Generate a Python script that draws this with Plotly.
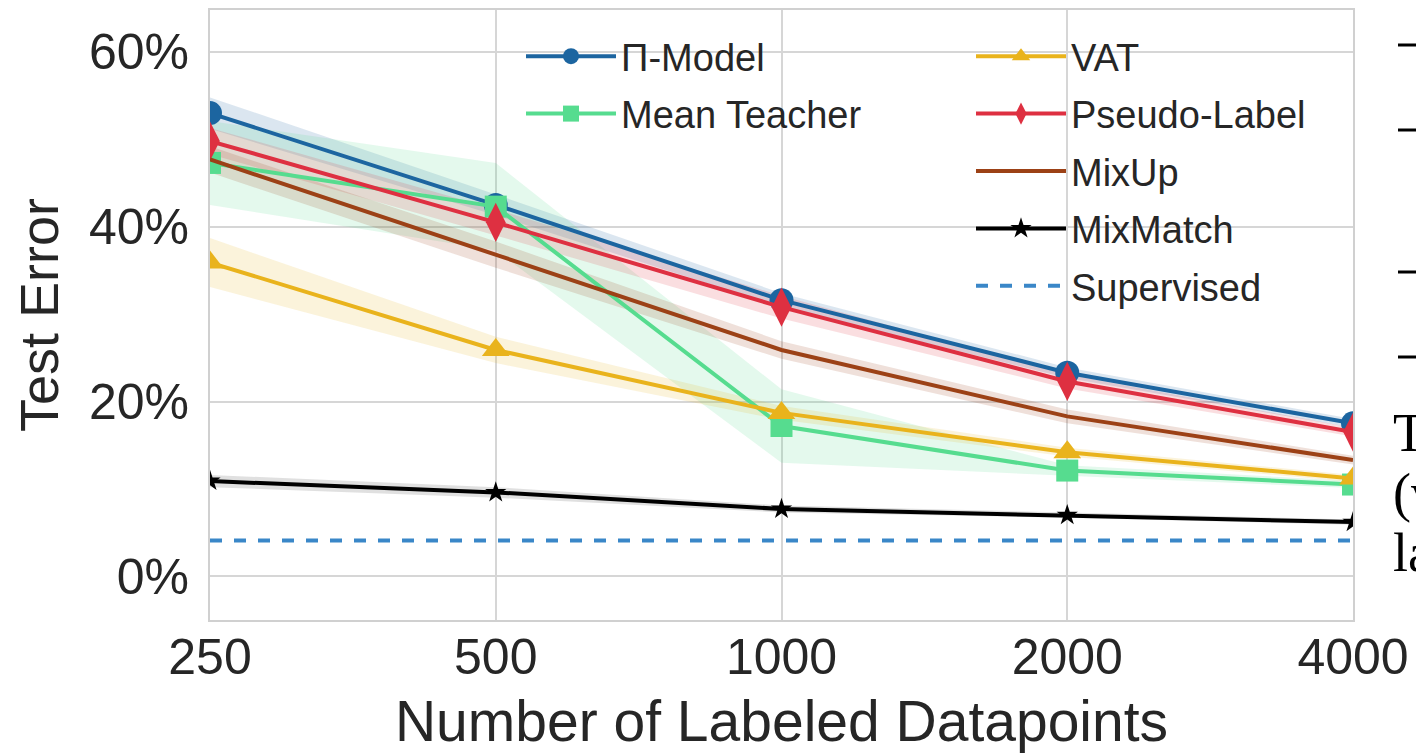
import plotly.graph_objects as go
import numpy as np

categories = [250, 500, 1000, 2000, 4000]
tick_labels = ["250", "500", "1000", "2000", "4000"]
y_ticks = [0, 20, 40, 60]
y_tick_labels = ["0%", "20%", "40%", "60%"]

pi_model = [53.0, 42.5, 31.6, 23.3, 17.5]
pi_model_sd = [1.8, 1.2, 0.8, 0.6, 0.5]
mean_teacher = [47.3, 42.3, 17.2, 12.1, 10.5]
mean_teacher_sd = [4.8, 5.0, 4.2, 0.6, 0.4]
vat = [35.9, 25.9, 18.7, 14.2, 11.2]
vat_sd = [2.8, 1.5, 0.8, 0.5, 0.4]
pseudo_label = [49.8, 40.5, 30.8, 22.3, 16.5]
pseudo_label_sd = [1.5, 1.5, 1.3, 0.8, 0.5]
mixup = [47.7, 36.8, 25.9, 18.3, 13.3]
mixup_sd = [1.5, 1.5, 1.0, 0.8, 0.5]
mixmatch = [10.9, 9.6, 7.7, 7.0, 6.2]
mixmatch_sd = [0.7, 0.6, 0.4, 0.3, 0.3]
supervised = [4.1, 4.1, 4.1, 4.1, 4.1]

series = [
    ("Π-Model", pi_model, pi_model_sd, "#1c65a0", "circle", 24, "legend"),
    ("Mean Teacher", mean_teacher, mean_teacher_sd, "#56dc8f", "square", 22, "legend"),
    ("VAT", vat, vat_sd, "#e9b31c", "triangle-up", 24, "legend2"),
    ("Pseudo-Label", pseudo_label, pseudo_label_sd, "#de3041", "diamond-tall", 28, "legend2"),
    ("MixUp", mixup, mixup_sd, "#9c4116", None, 0, "legend2"),
    ("MixMatch", mixmatch, mixmatch_sd, "#000000", "star", 16, "legend2"),
]

def rgba(hexc, a):
    h = hexc.lstrip("#")
    r, g, b = int(h[0:2], 16), int(h[2:4], 16), int(h[4:6], 16)
    if hexc == "#000000":
        r, g, b = 60, 60, 60
    return f"rgba({r},{g},{b},{a})"

fig = go.Figure()
for i, (name, vals, sd, col, sym, size, leg) in enumerate(series):
    v = np.array(vals)
    s = np.array(sd)
    fig.add_trace(go.Scatter(x=categories, y=v + s, mode="lines", line=dict(width=0),
                             showlegend=False, hoverinfo="skip", legendgroup=f"g{i}"))
    fig.add_trace(go.Scatter(x=categories, y=v - s, mode="lines", line=dict(width=0),
                             fill="tonexty", fillcolor=rgba(col, 0.16),
                             showlegend=False, hoverinfo="skip", legendgroup=f"g{i}"))
for i, (name, vals, sd, col, sym, size, leg) in enumerate(series):
    mode = "lines+markers" if sym else "lines"
    mk = dict(symbol=sym, size=size, color=col, line=dict(width=0)) if sym else None
    fig.add_trace(go.Scatter(x=categories, y=vals, mode=mode, name=name,
                             line=dict(color=col, width=4), marker=mk,
                             legend=leg, legendgroup=f"g{i}"))
fig.add_trace(go.Scatter(x=categories, y=supervised, mode="lines", name="Supervised",
                         line=dict(color="#3a87c8", width=4, dash="dash"),
                         legend="legend2", legendgroup="gsup"))

font_col = "#262626"
leg_common = dict(xanchor="left", yanchor="top", bgcolor="rgba(0,0,0,0)",
                  font=dict(size=38, color=font_col), itemwidth=90, tracegroupgap=5)
fig.update_layout(
    width=1416, height=755,
    margin=dict(l=210, r=63, t=10, b=135, autoexpand=False),
    paper_bgcolor="white", plot_bgcolor="white",
    font=dict(family="Liberation Sans, Arial, sans-serif", color=font_col, size=40),
    legend=dict(x=(521 - 210) / 1143, y=1 - (25 - 10) / 610, **leg_common),
    legend2=dict(x=(971 - 210) / 1143, y=1 - (25 - 10) / 610, **leg_common),
    showlegend=True,
)
fig.update_xaxes(type="log", range=[np.log10(250), np.log10(4000)],
                 tickvals=categories, ticktext=tick_labels,
                 tickfont=dict(size=50, color=font_col),
                 title=dict(text="Number of Labeled Datapoints", font=dict(size=57, color=font_col), standoff=17),
                 showgrid=True, gridcolor="#d6d6d6", gridwidth=2,
                 showline=True, linecolor="#d0d0d0", linewidth=2, mirror=True,
                 ticks="", ticklabelstandoff=-8, automargin=False, zeroline=False)
fig.update_yaxes(range=[-5, 64.8], tickvals=y_ticks, ticktext=y_tick_labels,
                 tickfont=dict(size=50, color=font_col),
                 title=dict(text="Test Error", font=dict(size=54, color=font_col), standoff=13),
                 showgrid=True, gridcolor="#d6d6d6", gridwidth=2,
                 showline=True, linecolor="#d0d0d0", linewidth=2, mirror=True,
                 ticks="outside", ticklen=9, tickcolor="rgba(0,0,0,0)",
                 automargin=False, zeroline=False)

# fragments of the surrounding page visible at the right edge
for py in [45, 130, 272, 357]:
    fig.add_shape(type="line", xref="paper", yref="paper",
                  x0=(1398 - 210) / 1143, x1=(1420 - 210) / 1143,
                  y0=1 - (py - 10) / 610, y1=1 - (py - 10) / 610,
                  line=dict(color="black", width=3))
for txt, py in [("T", 433), ("(v", 493), ("la", 553)]:
    fig.add_annotation(text=txt, xref="paper", yref="paper", x=(1391 - 210) / 1143,
                       y=1 - (py - 10) / 610, xanchor="left", yanchor="middle", showarrow=False,
                       font=dict(family="Liberation Serif, Times New Roman, serif", size=54, color="black"))

fig.write_html("out.html", config={"displayModeBar": False},
               post_script="document.body.style.margin='0';document.body.style.overflow='hidden';")
